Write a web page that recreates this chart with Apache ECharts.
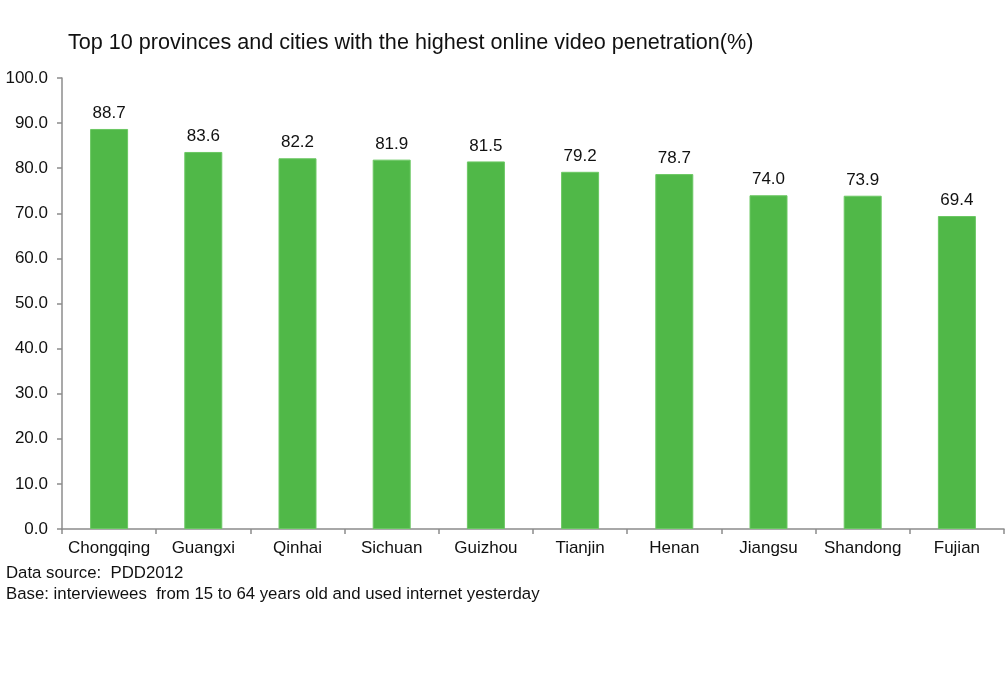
<!DOCTYPE html>
<html>
<head>
<meta charset="utf-8">
<script src="https://cdn.jsdelivr.net/npm/echarts@6/dist/echarts.min.js"></script>
<style>
  html, body { margin: 0; padding: 0; background: #fff; }
  #chart { width: 1006px; height: 689px; }
</style>
</head>
<body>
<div id="chart"></div>
<script>
// categories and values
var provinces = ['Chongqing', 'Guangxi', 'Qinhai', 'Sichuan', 'Guizhou', 'Tianjin', 'Henan', 'Jiangsu', 'Shandong', 'Fujian'];
var penetration = [88.7, 83.6, 82.2, 81.9, 81.5, 79.2, 78.7, 74.0, 73.9, 69.4];
var titleText = 'Top 10 provinces and cities with the highest online video penetration(%)';
var notes = ['Data source:  PDD2012', 'Base: interviewees  from 15 to 64 years old and used internet yesterday'];

var FONT = 'Liberation Sans, Arial, sans-serif';
var TEXT = '#111';
var AXIS = '#8c8c8c';

var chart = echarts.init(document.getElementById('chart'));
chart.setOption({
  animation: false,
  title: {
    text: titleText,
    left: 63,
    top: 27,
    textStyle: { fontFamily: FONT, fontSize: 21.6, fontWeight: 'normal', color: TEXT }
  },
  graphic: notes.map(function (t, i) {
    return {
      type: 'text',
      left: 6,
      top: 565 + i * 21,
      style: { text: t, fontFamily: FONT, fontSize: 16.8, fill: TEXT }
    };
  }),
  grid: { left: 62, right: 2, top: 78, bottom: 160, containLabel: false },
  xAxis: {
    type: 'category',
    data: provinces,
    axisLine: { lineStyle: { color: AXIS, width: 1.5 } },
    axisTick: { show: true, length: 5, lineStyle: { color: AXIS, width: 1.5 } },
    axisLabel: { interval: 0, fontFamily: FONT, fontSize: 17, color: TEXT, margin: 11 }
  },
  yAxis: {
    type: 'value',
    min: 0,
    max: 100,
    interval: 10,
    axisLine: { show: true, lineStyle: { color: AXIS, width: 1.5 } },
    axisTick: { show: true, length: 5, lineStyle: { color: AXIS, width: 1.5 } },
    splitLine: { show: false },
    axisLabel: {
      fontFamily: FONT, fontSize: 17, color: TEXT, margin: 14,
      formatter: function (v) { return v.toFixed(1); }
    }
  },
  series: [{
    type: 'bar',
    data: penetration,
    barWidth: 38,
    itemStyle: { color: '#50b848', borderColor: '#6cc864', borderWidth: 1 },
    label: {
      show: true,
      position: 'top',
      distance: 7,
      fontFamily: FONT, fontSize: 17, color: TEXT,
      formatter: function (p) { return p.value.toFixed(1); }
    }
  }]
});
</script>
</body>
</html>
